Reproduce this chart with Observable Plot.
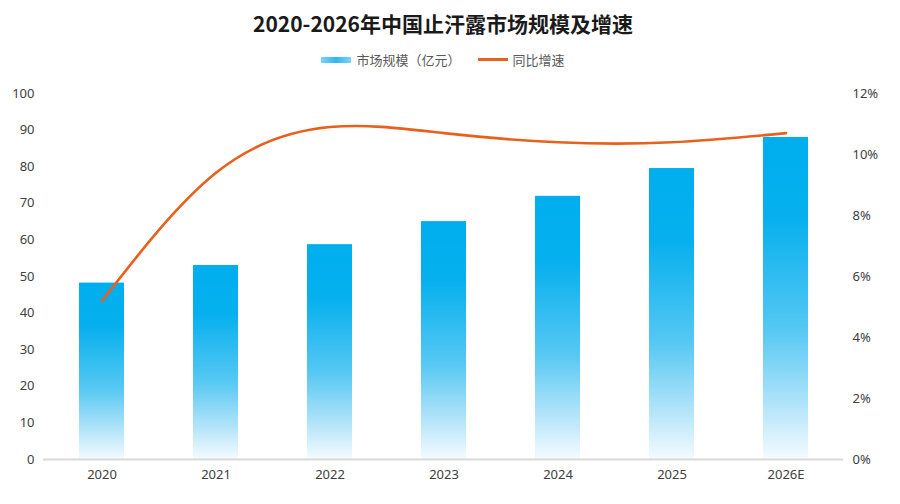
<!DOCTYPE html>
<html>
<head>
<meta charset="utf-8">
<script src="https://cdn.jsdelivr.net/npm/d3@7"></script>
<script src="https://cdn.jsdelivr.net/npm/@observablehq/plot@0.6"></script>
<style>
  html, body { margin: 0; padding: 0; background: #fff; }
  #wrap { width: 900px; height: 504px; position: relative; overflow: hidden; font-family: "Noto Sans CJK SC", "Noto Sans", sans-serif; }
  #title { height: 44px; line-height: 46px; text-align: center; padding-right: 14px; font-size: 21px; font-weight: bold; color: #1a1a1a; }
  #legend { height: 31px; display: flex; justify-content: center; align-items: center; padding-right: 14px; font-size: 13px; color: #595959; gap: 5px; }
  .sw-bar { width: 30px; height: 6px; background: linear-gradient(to right, #7fd3f5, #2bb8f0, #7fd3f5); display: inline-block; }
  .sw-line { width: 30px; height: 3px; background: #e8601c; display: inline-block; margin-left: 12px; }
  svg { display: block; }
</style>
</head>
<body>
<div id="wrap">
  <div id="title">2020-2026年中国止汗露市场规模及增速</div>
  <div id="legend"><span class="sw-bar"></span><span>市场规模（亿元）</span><span class="sw-line"></span><span>同比增速</span></div>
  <div id="chart"></div>
</div>
<script>
const years = ["2020", "2021", "2022", "2023", "2024", "2025", "2026E"];
const marketSize = [48.2, 53.0, 58.7, 65.0, 71.9, 79.5, 88.0];
const growthPct = [5.2, 9.4, 10.9, 10.7, 10.4, 10.4, 10.7];
const leftTicks = [0, 10, 20, 30, 40, 50, 60, 70, 80, 90, 100];
const rightTicks = [0, 2, 4, 6, 8, 10, 12];
const pctMax = 12, yMax = 100;

const bars = years.map((y, i) => ({year: y, value: marketSize[i]}));
const line = years.map((y, i) => ({year: y, pct: growthPct[i]}));
const toY = p => p * yMax / pctMax;

const defs = () => {
  const g = d3.create("svg:defs");
  const lg = g.append("linearGradient").attr("id", "barGrad").attr("x1", 0).attr("y1", 0).attr("x2", 0).attr("y2", 1);
  [[0, "#00aeee"], [0.25, "#06b0ee"], [0.6, "#56c8f3"], [0.85, "#b9e6fa"], [1, "#f4fbff"]].forEach(([o, c]) =>
    lg.append("stop").attr("offset", o).attr("stop-color", c));
  return g.node();
};

const chart = Plot.plot({
  width: 900,
  height: 429,
  marginTop: 18,
  marginBottom: 45,
  marginLeft: 43,
  marginRight: 57,
  style: {fontFamily: "'Noto Sans', sans-serif", fontSize: "13px", color: "#404040", background: "#fff"},
  x: {type: "band", domain: years, paddingInner: 0.607, paddingOuter: 0.3, label: null},
  y: {domain: [0, yMax], label: null},
  marks: [
    defs,
    Plot.barY(bars, {x: "year", y: "value", fill: "url(#barGrad)"}),
    Plot.ruleY([0], {stroke: "#d9d9d9", strokeWidth: 2}),
    Plot.line(line, {x: "year", y: d => toY(d.pct), stroke: "#e8601c", strokeWidth: 2.6, curve: "natural"}),
    Plot.axisY(leftTicks, {anchor: "left", tickSize: 0, tickPadding: 9, label: null, fill: "#404040"}),
    Plot.axisY(rightTicks.map(toY), {anchor: "right", tickSize: 0, tickPadding: 9, label: null, fill: "#404040",
      tickFormat: d => Math.round(d * pctMax / yMax) + "%"}),
    Plot.axisX({tickSize: 0, tickPadding: 10, label: null, fill: "#404040"})
  ]
});
document.getElementById("chart").appendChild(chart);
</script>
</body>
</html>
